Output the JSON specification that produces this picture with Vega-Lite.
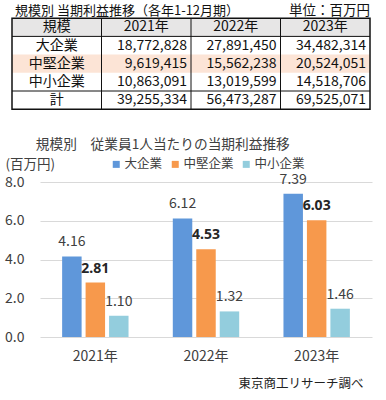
{
  "$schema": "https://vega.github.io/schema/vega-lite/v6.json",
  "width": 386,
  "height": 400,
  "autosize": {"type": "fit", "contains": "padding"},
  "padding": 0,
  "background": "white",
  "config": {"view": {"stroke": null}, "font": "Noto Sans CJK JP"},
  "datasets": {
    "cols": [{"col": "規模"}, {"col": "2021年"}, {"col": "2022年"}, {"col": "2023年"}],
    "rows": [{"row": "大企業"}, {"row": "中堅企業"}, {"row": "中小企業"}, {"row": "計"}],
    "tbl": [
      {"row": "大企業", "col": "2021年", "value": 18772828},
      {"row": "大企業", "col": "2022年", "value": 27891450},
      {"row": "大企業", "col": "2023年", "value": 34482314},
      {"row": "中堅企業", "col": "2021年", "value": 9619415},
      {"row": "中堅企業", "col": "2022年", "value": 15562238},
      {"row": "中堅企業", "col": "2023年", "value": 20524051},
      {"row": "中小企業", "col": "2021年", "value": 10863091},
      {"row": "中小企業", "col": "2022年", "value": 13019599},
      {"row": "中小企業", "col": "2023年", "value": 14518706},
      {"row": "計", "col": "2021年", "value": 39255334},
      {"row": "計", "col": "2022年", "value": 56473287},
      {"row": "計", "col": "2023年", "value": 69525071}
    ],
    "per": [
      {"year": "2021年", "size": "大企業", "v": 4.16},
      {"year": "2021年", "size": "中堅企業", "v": 2.81},
      {"year": "2021年", "size": "中小企業", "v": 1.10},
      {"year": "2022年", "size": "大企業", "v": 6.12},
      {"year": "2022年", "size": "中堅企業", "v": 4.53},
      {"year": "2022年", "size": "中小企業", "v": 1.32},
      {"year": "2023年", "size": "大企業", "v": 7.39},
      {"year": "2023年", "size": "中堅企業", "v": 6.03},
      {"year": "2023年", "size": "中小企業", "v": 1.46}
    ]
  },
  "layer": [
    {
      "layer": [
        {
          "data": {"name": "cols"},
          "mark": {"type": "rect", "fill": "#E7E6E6"},
          "encoding": {
            "x": {"field": "col", "type": "nominal", "scale": {"type": "band", "domain": ["規模", "2021年", "2022年", "2023年"], "range": [12, 370], "paddingInner": 0, "paddingOuter": 0}, "axis": null},
            "y": {"datum": "規模", "type": "nominal", "scale": {"type": "band", "domain": ["title", "規模", "大企業", "中堅企業", "中小企業", "計"], "range": [0, 109.2], "paddingInner": 0, "paddingOuter": 0}, "axis": null}
          }
        },
        {
          "data": {"name": "cols"},
          "mark": {"type": "rect", "fill": "#FCE4D6"},
          "encoding": {
            "x": {"field": "col", "type": "nominal"},
            "y": {"datum": "中堅企業", "type": "nominal"}
          }
        },
        {
          "data": {"name": "cols"},
          "mark": {"type": "text", "fontSize": 14, "fill": "#111111"},
          "encoding": {
            "x": {"field": "col", "type": "nominal"},
            "y": {"datum": "規模", "type": "nominal"},
            "text": {"field": "col"}
          }
        },
        {
          "data": {"name": "rows"},
          "mark": {"type": "text", "fontSize": 14, "fill": "#111111"},
          "encoding": {
            "x": {"datum": "規模", "type": "nominal"},
            "y": {"field": "row", "type": "nominal"},
            "text": {"field": "row"}
          }
        },
        {
          "data": {"name": "tbl"},
          "mark": {"type": "text", "fontSize": 14, "fill": "#111111", "align": "right", "dx": -4},
          "encoding": {
            "x": {"field": "col", "type": "nominal", "bandPosition": 1},
            "y": {"field": "row", "type": "nominal"},
            "text": {"field": "value", "format": ","}
          }
        },
        {
          "data": {"name": "cols"},
          "transform": [{"filter": "datum.col !== '規模'"}],
          "mark": {"type": "rule", "stroke": "#111111", "strokeWidth": 1},
          "encoding": {
            "x": {"field": "col", "type": "nominal", "bandPosition": 0},
            "y": {"datum": "規模", "type": "nominal", "bandPosition": 0},
            "y2": {"datum": "計", "bandPosition": 1}
          }
        },
        {
          "data": {"name": "rows"},
          "transform": [{"filter": "datum.row === '大企業' || datum.row === '計'"}],
          "mark": {"type": "rule", "stroke": "#111111", "strokeWidth": 1},
          "encoding": {
            "y": {"field": "row", "type": "nominal", "bandPosition": 0},
            "x": {"datum": "規模", "type": "nominal", "bandPosition": 0},
            "x2": {"datum": "2023年", "bandPosition": 1}
          }
        },
        {
          "data": {"name": "cols"},
          "transform": [{"filter": "datum.col === '規模'"}],
          "mark": {"type": "rect", "fill": null, "fillOpacity": 0, "stroke": "#111111", "strokeWidth": 1.5},
          "encoding": {
            "x": {"datum": "規模", "type": "nominal", "bandPosition": 0},
            "x2": {"datum": "2023年", "bandPosition": 1},
            "y": {"datum": "規模", "type": "nominal", "bandPosition": 0},
            "y2": {"datum": "計", "bandPosition": 1}
          }
        },
        {
          "data": {"name": "cols"},
          "transform": [{"filter": "datum.col === '規模'"}],
          "mark": {"type": "text", "fontSize": 13, "fill": "#111111", "align": "left", "dx": 3, "dy": 2, "text": "規模別  当期利益推移（各年1-12月期）"},
          "encoding": {
            "x": {"datum": "規模", "type": "nominal", "bandPosition": 0},
            "y": {"datum": "title", "type": "nominal"}
          }
        },
        {
          "data": {"name": "cols"},
          "transform": [{"filter": "datum.col === '規模'"}],
          "mark": {"type": "text", "fontSize": 13.5, "fill": "#111111", "align": "right", "dx": 0, "dy": 2, "text": "単位：百万円"},
          "encoding": {
            "x": {"datum": "2023年", "type": "nominal", "bandPosition": 1},
            "y": {"datum": "title", "type": "nominal"}
          }
        }
      ]
    },
    {
      "data": {"name": "per"},
      "encoding": {
        "x": {
          "field": "year", "type": "nominal",
          "scale": {"type": "band", "domain": ["2021年", "2022年", "2023年"], "range": [40, 372], "paddingInner": 0.4, "paddingOuter": 0.2},
          "axis": {"orient": "bottom", "domain": false, "ticks": false, "grid": false, "offset": -63, "labelPadding": 12, "labelFontSize": 14, "labelColor": "#404040", "labelAngle": 0,
                   "title": "東京商工リサーチ調べ", "titleX": 363, "titleY": 46, "titleAlign": "right", "titleBaseline": "middle", "titleFontSize": 12.5, "titleFontWeight": "normal", "titleColor": "#222222"}
        },
        "xOffset": {"field": "size", "type": "nominal", "scale": {"domain": ["大企業", "中堅企業", "中小企業"], "paddingInner": 0.17, "paddingOuter": 0}},
        "y": {
          "field": "v", "type": "quantitative",
          "scale": {"domain": [0, 8], "range": [337, 182], "nice": false, "zero": true},
          "axis": {"orient": "left", "values": [0, 2, 4, 6, 8], "format": ".1f", "domain": false, "ticks": false, "grid": true, "gridColor": "#D9D9D9", "gridWidth": 1, "offset": -40, "labelPadding": 16, "labelFontSize": 14, "labelColor": "#404040",
                   "title": "(百万円)", "titleAngle": 0, "titleX": -35, "titleY": 164, "titleAlign": "left", "titleBaseline": "middle", "titleFontSize": 13.5, "titleFontWeight": "normal", "titleColor": "#404040"}
        }
      },
      "layer": [
        {
          "mark": {"type": "bar"},
          "encoding": {
            "color": {
              "field": "size", "type": "nominal",
              "scale": {"domain": ["大企業", "中堅企業", "中小企業"], "range": ["#5F97DA", "#F7994C", "#93CDDD"]},
              "legend": {"orient": "none", "legendX": 110, "legendY": 158, "direction": "horizontal", "padding": 0, "title": null,
                         "symbolType": "square", "symbolSize": 49, "symbolStrokeWidth": 0,
                         "labelFontSize": 12.5, "labelColor": "#404040", "labelOffset": 2, "columnPadding": 6}
            }
          }
        },
        {
          "transform": [{"filter": "datum.size !== '中堅企業'"}],
          "mark": {"type": "text", "fontSize": 14, "fill": "#404040", "baseline": "alphabetic", "dy": -10},
          "encoding": {
            "text": {"field": "v", "type": "quantitative", "format": ".2f"}
          }
        },
        {
          "transform": [{"filter": "datum.size === '中堅企業'"}],
          "mark": {"type": "text", "fontSize": 14, "font": "Noto Sans", "fontWeight": "bold", "fill": "#262626", "baseline": "alphabetic", "dy": -10},
          "encoding": {
            "text": {"field": "v", "type": "quantitative", "format": ".2f"}
          }
        },
        {
          "transform": [{"filter": "datum.year === '2022年' && datum.size === '大企業'"}],
          "mark": {"type": "text", "fontSize": 13.7, "fill": "#404040", "baseline": "middle", "dx": -10, "dy": -37, "text": "規模別　従業員1人当たりの当期利益推移"},
          "encoding": {
            "xOffset": {"value": 0},
            "y": {"datum": 8, "type": "quantitative"}
          }
        }
      ]
    }
  ],
  "resolve": {"scale": {"x": "independent", "y": "independent"}, "axis": {"x": "independent", "y": "independent"}}
}
